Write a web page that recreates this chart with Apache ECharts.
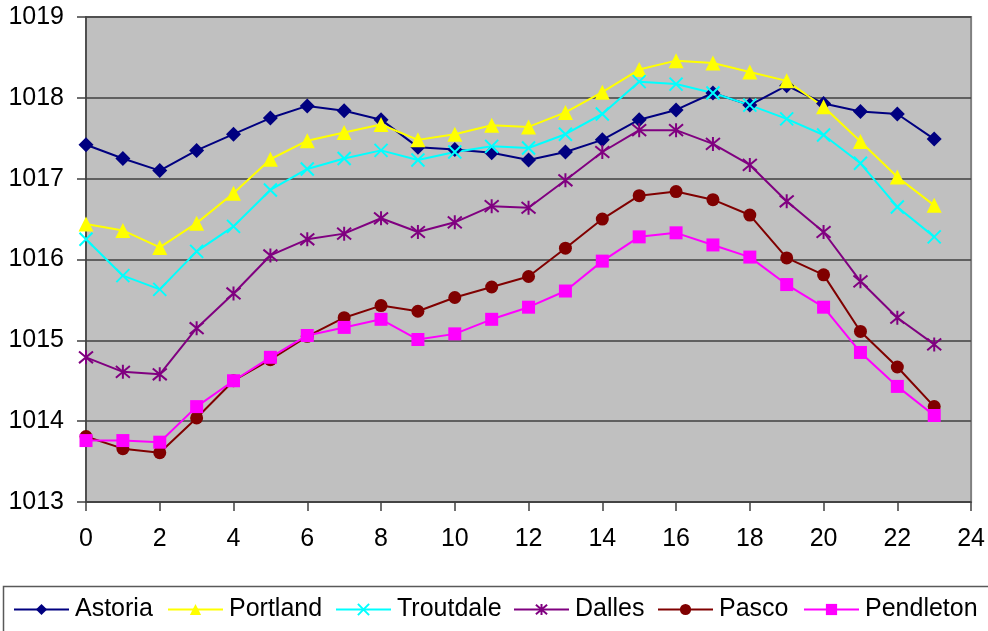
<!DOCTYPE html>
<html>
<head>
<meta charset="utf-8">
<script src="https://cdn.jsdelivr.net/npm/echarts@6/dist/echarts.min.js"></script>
<style>html,body{margin:0;padding:0;background:#fff}#c{width:988px;height:631px}</style>
</head>
<body>
<div id="c"></div>
<script>
const hours = [0,1,2,3,4,5,6,7,8,9,10,11,12,13,14,15,16,17,18,19,20,21,22,23];
const seriesNames = ['Astoria','Portland','Troutdale','Dalles','Pasco','Pendleton'];
const astoria   = [1017.42,1017.25,1017.10,1017.35,1017.55,1017.75,1017.90,1017.84,1017.73,1017.39,1017.36,1017.32,1017.23,1017.33,1017.48,1017.73,1017.85,1018.06,1017.91,1018.15,1017.93,1017.83,1017.80,1017.49];
const portland  = [1016.44,1016.36,1016.15,1016.45,1016.82,1017.24,1017.47,1017.57,1017.67,1017.48,1017.55,1017.66,1017.64,1017.82,1018.07,1018.35,1018.46,1018.43,1018.32,1018.21,1017.89,1017.46,1017.02,1016.67];
const troutdale = [1016.25,1015.80,1015.63,1016.10,1016.41,1016.86,1017.12,1017.25,1017.35,1017.23,1017.33,1017.40,1017.38,1017.55,1017.80,1018.20,1018.17,1018.06,1017.91,1017.74,1017.54,1017.19,1016.65,1016.28];
const dalles    = [1014.79,1014.61,1014.58,1015.15,1015.58,1016.05,1016.25,1016.32,1016.51,1016.34,1016.46,1016.66,1016.64,1016.98,1017.33,1017.60,1017.60,1017.43,1017.17,1016.72,1016.34,1015.73,1015.28,1014.95];
const pasco     = [1013.81,1013.66,1013.61,1014.04,1014.50,1014.76,1015.05,1015.28,1015.43,1015.36,1015.53,1015.66,1015.79,1016.14,1016.50,1016.79,1016.84,1016.74,1016.55,1016.02,1015.81,1015.11,1014.67,1014.18];
const pendleton = [1013.76,1013.76,1013.74,1014.18,1014.50,1014.79,1015.06,1015.16,1015.26,1015.01,1015.08,1015.26,1015.41,1015.61,1015.98,1016.28,1016.33,1016.18,1016.03,1015.69,1015.41,1014.85,1014.43,1014.07];
const xTicks = [0,2,4,6,8,10,12,14,16,18,20,22,24];
const yTicks = [1013,1014,1015,1016,1017,1018,1019];

const allValues = [astoria,portland,troutdale,dalles,pasco,pendleton];
const colors = ['#000080','#FFFF00','#00FFFF','#800080','#800000','#FF00FF'];
const symbols = [
  'diamond',
  'triangle',
  'path://M0 0 L10 10 M10 0 L0 10',
  'path://M0 0 L10 10 M10 0 L0 10 M5 -1 L5 11',
  'circle',
  'rect'
];
const sizes = [15, 15, 13, 14, 13, 13];
const stroked = [false,false,true,true,false,false];
const legendLefts = [13, 167, 335, 513, 657, 803];

const chart = echarts.init(document.getElementById('c'), null, {renderer:'canvas'});
const font = '"Liberation Sans", Arial, sans-serif';

const series = seriesNames.map((n,i)=>({
  name: n,
  type: 'line',
  data: hours.map((h,j)=>[h, allValues[i][j]]),
  symbol: symbols[i],
  symbolSize: sizes[i],
  showAllSymbol: true,
  animation: false,
  lineStyle: {color: colors[i], width: 2},
  itemStyle: stroked[i] ? {color: colors[i], borderColor: colors[i], borderWidth: 2} : {color: colors[i], borderWidth: 0},
  emphasis: {disabled: true}
}));

const legends = seriesNames.map((n,i)=>({
  left: legendLefts[i], top: 597, padding: 0,
  itemWidth: 55, itemHeight: 14, itemGap: 0,
  selectedMode: false,
  textStyle: {fontSize: 25, color: '#000', fontFamily: font, padding: [0,0,0,1]},
  data: [n]
}));

chart.setOption({
  animation: false,
  backgroundColor: '#ffffff',
  textStyle: {fontFamily: font},
  graphic: [{
    type: 'rect', z: -1,
    shape: {x: 3.5, y: 586.5, width: 1000, height: 100},
    style: {fill: '#ffffff', stroke: '#595959', lineWidth: 1.5}
  }],
  grid: {
    left: 86, top: 17, right: 15, bottom: 129,
    show: true, backgroundColor: '#C0C0C0', borderColor: '#808080', borderWidth: 2
  },
  legend: legends,
  xAxis: {
    type: 'value', min: xTicks[0], max: xTicks[xTicks.length-1], interval: 2,
    axisLine: {show: true, lineStyle: {color: '#404040', width: 1.5}},
    axisTick: {show: true, length: 9, lineStyle: {color: '#404040', width: 1.5}},
    axisLabel: {fontSize: 25, color: '#000', margin: 25, fontFamily: font, formatter: v => String(v)},
    splitLine: {show: false}
  },
  yAxis: {
    type: 'value', min: yTicks[0], max: yTicks[yTicks.length-1], interval: 1,
    axisLine: {show: true, lineStyle: {color: '#404040', width: 1.5}},
    axisTick: {show: true, length: 9, lineStyle: {color: '#404040', width: 1.5}},
    axisLabel: {fontSize: 25, color: '#000', margin: 22, fontFamily: font, formatter: v => String(v)},
    splitLine: {show: true, lineStyle: {color: '#404040', width: 1.5}}
  },
  series: series
});
</script>
</body>
</html>
